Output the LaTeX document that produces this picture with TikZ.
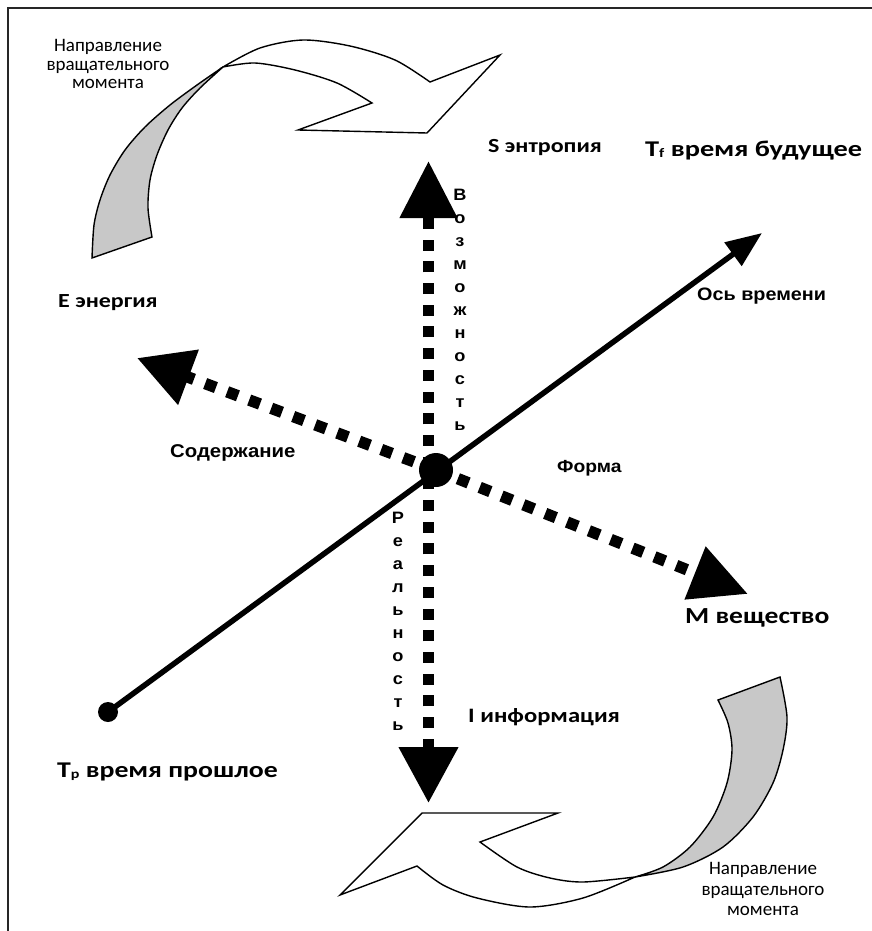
\documentclass[tikz,border=0pt]{standalone}
\usepackage{fontspec}
\setmainfont{Carlito}
\newfontfamily\calw[FakeStretch=1.2]{Carlito}
\newfontfamily\ari[FakeStretch=1.1]{Liberation Sans}
\usetikzlibrary{arrows.meta}
\definecolor{fillgray}{RGB}{200,200,200}
\begin{document}
\begin{tikzpicture}[x=1pt,y=-1pt,
  ribbon/.style={draw=black, line width=1.4pt, line join=miter},
  dotv/.style={line width=11pt, dash pattern=on 11pt off 10.7pt},
  dotd/.style={line width=11.5pt, dash pattern=on 11.5pt off 12pt},
  bigl/.style={anchor=base west, inner sep=0pt},
  vlet/.style={anchor=base, inner sep=0pt, font=\ari\bfseries\fontsize{16.5}{16.5}\selectfont},
  rot/.style={anchor=base, inner sep=0pt, font=\fontsize{19}{19}\selectfont},
  arl/.style={anchor=base west, inner sep=0pt}
]
\useasboundingbox (0,0) rectangle (872,931);
% frame
\draw[line width=2.2pt, black!85] (8,931) -- (8,8) -- (872,8);

% ---------- top-left curved arrow ----------
\filldraw[ribbon, fill=fillgray]
  plot[smooth] coordinates {(92,258) (94,225) (100,200) (110,175) (125,150) (145,127) (170,105) (197,85) (223,67)}
  -- plot[smooth] coordinates {(223,67) (200,88) (182,108) (168,130) (157,155) (150,180) (148,208) (152,237)}
  -- cycle;
\filldraw[ribbon, fill=white]
  plot[smooth] coordinates {(223,67) (260,48) (303,40) (350,46) (395,60) (430,82)}
  -- (500,55) -- (427,133) -- (298,130)
  -- plot[smooth] coordinates {(372,103) (337,83) (295,70) (255,63) (223,67)}
  -- cycle;
\node[rot] (rt1) at (108,52) {Направление};
\node[rot] (rt2) at (108,71) {вращательного};
\node[rot] (rt3) at (108,89) {момента};

% ---------- bottom-right curved arrow ----------
\filldraw[ribbon, fill=fillgray]
  plot[smooth] coordinates {(718,700) (728,723) (732,750) (727,783) (713,817) (690,847) (663,867) (635,877)}
  -- plot[smooth] coordinates {(635,877) (683,867) (723,847) (753,817) (773,783) (783,750) (787,717) (780,677)}
  -- cycle;
\filldraw[ribbon, fill=white]
  plot[smooth] coordinates {(635,877) (583,898) (530,907) (477,898) (443,885) (417,866)}
  -- (340,895) -- (422,813) -- (558,813)
  -- plot[smooth] coordinates {(480,842) (517,867) (550,878) (583,882) (635,877)}
  -- cycle;
\node[rot] (rb1) at (763,874) {Направление};
\node[rot] (rb2) at (763,895) {вращательного};
\node[rot] (rb3) at (763,915) {момента};

% ---------- axes ----------
\coordinate (O) at (436,470);
\coordinate (Vtop) at (428.5,161);
\coordinate (Vbot) at (428.5,803);
\coordinate (Ltip) at (137,358);
\coordinate (Rtip) at (748,594);
\coordinate (Tf) at (762,233);
\node[circle, fill=black, inner sep=0pt, minimum size=20pt] (Tp) at (108,712) {};

\draw[dotv, {Triangle[length=56pt,width=57pt]}-{Triangle[length=57pt,width=55pt]}] (Vbot) -- (Vtop);
\draw[dotd, -{Triangle[length=55pt,width=56pt]}] (O) -- (Ltip);
\draw[dotd, -{Triangle[length=57pt,width=54pt]}] (O) -- (Rtip);
\draw[line width=5.5pt, -{Triangle[length=36pt,width=28pt]}] (Tp.center) -- (Tf);
\node[circle, fill=black, inner sep=0pt, minimum size=34pt] (C) at (O) {};

% ---------- labels ----------
\node[bigl, font=\calw\bfseries\fontsize{20}{20}\selectfont] (S) at (488,153) {S энтропия};
\node[bigl, font=\calw\bfseries\fontsize{22.5}{22.5}\selectfont] (Tflab) at (645,156) {\scalebox{1.05}[1]{T\raisebox{-1.5pt}{\fontsize{13}{13}\selectfont f} время будущее}};
\node[bigl, font=\calw\bfseries\fontsize{23}{23}\selectfont] (M) at (685,623) {M вещество};
\node[bigl, font=\calw\bfseries\fontsize{20}{20}\selectfont] (E) at (58,307) {E энергия};
\node[bigl, font=\calw\bfseries\fontsize{20.5}{20.5}\selectfont] (I) at (468,722) {I информация};
\node[bigl, font=\calw\bfseries\fontsize{22.5}{22.5}\selectfont] (Tplab) at (57,777) {\scalebox{1.03}[1]{T\raisebox{-1.5pt}{\fontsize{13}{13}\selectfont p} время прошлое}};

\node[arl, font=\ari\bfseries\fontsize{18}{18}\selectfont] (axis) at (697,300) {Ось времени};
\node[arl, font=\ari\bfseries\fontsize{18.5}{18.5}\selectfont] (cont) at (170,457) {Содержание};
\node[arl, font=\ari\bfseries\fontsize{17.5}{17.5}\selectfont] (form) at (557,472) {Форма};

\foreach \l [count=\i from 0] in {В,о,з,м,о,ж,н,о,с,т,ь}
  \node[vlet] (poss\i) at (460,200+23*\i) {\l};
\foreach \l [count=\i from 0] in {Р,е,а,л,ь,н,о,с,т,ь}
  \node[vlet] (real\i) at (398,523+23*\i) {\l};
\end{tikzpicture}
\end{document}
